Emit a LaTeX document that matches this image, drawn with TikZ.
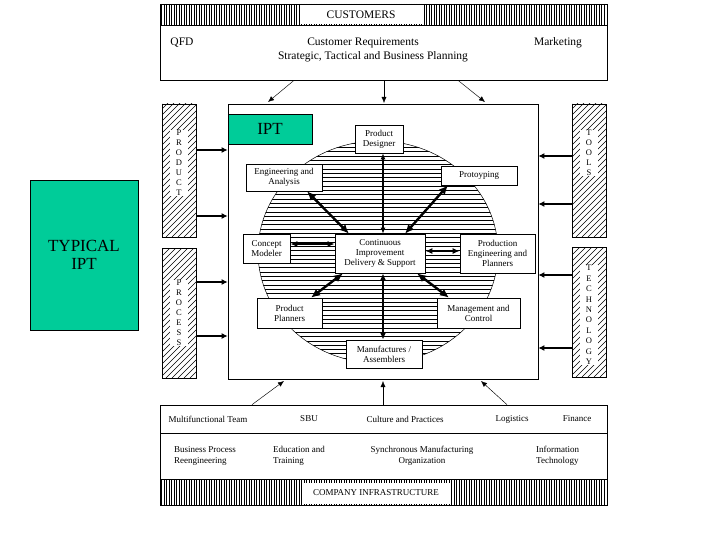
\documentclass[tikz,border=0pt]{standalone}
\usepackage{fontspec}
\setmainfont{Liberation Serif}
\usetikzlibrary{arrows.meta,patterns,calc}
\definecolor{iptgreen}{RGB}{0,204,153}
\begin{document}
\begin{tikzpicture}[x=1pt,y=-1pt,
  boxnode/.style={draw,line width=0.6pt,fill=white,inner sep=0pt,align=center,font=\fontsize{9}{10}\selectfont},
  frame/.style={draw,line width=0.7pt,inner sep=0pt},
  hatchcol/.style={draw,line width=0.6pt,inner sep=0pt,minimum width=34pt},
  colletters/.style={font=\fontsize{8.5}{10}\selectfont,align=center,fill=white,inner sep=0pt,minimum width=18pt},
  bigarrow/.style={{Latex[length=9pt,width=8pt]}-{Latex[length=9pt,width=8pt]},line width=2.4pt},
  midarrow/.style={{Latex[length=7pt,width=6pt]}-{Latex[length=7pt,width=6pt]},line width=1.6pt},
  thinarrow/.style={{Latex[length=6pt,width=5pt]}-{Latex[length=6pt,width=5pt]},line width=1.1pt},
  colarrow/.style={-{Latex[length=6pt,width=6pt]},line width=1.6pt},
  linkarrow/.style={-{Latex[length=6pt,width=5pt]},line width=0.45pt},
  toptext/.style={font=\fontsize{11.5}{13.5}\selectfont,align=center,inner sep=0pt},
  bottext/.style={font=\fontsize{9}{11}\selectfont,inner sep=0pt},
  hatchline/.style={line width=0.45pt},
]
\useasboundingbox (0,0) rectangle (720,540);

% ---------- top box ----------
\node[frame,minimum width=447pt,minimum height=76pt] (top) at (383.5,42) {};
\foreach \x in {161.5,164,...,606} \draw[line width=0.55pt] (\x,4) -- (\x,25);
\draw[line width=0.6pt] (160,25) -- (607,25);
\node[fill=white,minimum width=122pt,minimum height=19pt,inner sep=0pt] (custbox) at (361,15) {};
\node[toptext] (cust) at (custbox) {CUSTOMERS};
\draw[line width=0.7pt] (160,4) rectangle (607,80);
\node[toptext] (qfd) at (182,43) {QFD};
\node[toptext] (custreq) at (363,43) {Customer Requirements};
\node[toptext] (mkt) at (558,43) {Marketing};
\node[toptext] (plan) at (373,57) {Strategic, Tactical and Business Planning};

% ---------- main box ----------
\node[frame,minimum width=310pt,minimum height=275pt] (main) at (383,241.5) {};

% hatched ellipse
\begin{scope}
  \clip (378,252) ellipse [x radius=120, y radius=111];
  \foreach \y in {143,147.3,...,366} \draw[line width=0.5pt] (250,\y) -- (510,\y);
\end{scope}
\draw[line width=0.5pt] (378,252) ellipse [x radius=120, y radius=111];

% IPT label
\node[draw,line width=0.6pt,fill=iptgreen,minimum width=84pt,minimum height=30pt,inner sep=0pt,font=\fontsize{17}{19}\selectfont] (ipt) at (270,129) {IPT};

% inner nodes
\node[boxnode,minimum width=48pt,minimum height=28pt] (pd) at (379,139) {Product\\Designer};
\node[boxnode,minimum width=76pt,minimum height=27pt] (ea) at (284,177.5) {Engineering and\\Analysis};
\node[boxnode,minimum width=76pt,minimum height=19pt] (proto) at (479,175.5) {Protoyping};
\node[boxnode,minimum width=47pt,minimum height=29pt] (cm) at (266.5,248.5) {Concept\\Modeler};
\node[boxnode,minimum width=90pt,minimum height=39pt] (ci) at (380,253.5) {Continuous\\Improvement\\Delivery \& Support};
\node[boxnode,minimum width=75pt,minimum height=39pt] (pep) at (497.5,253.5) {Production\\Engineering and\\Planners};
\node[boxnode,minimum width=65pt,minimum height=30pt] (pp) at (289.5,313) {Product\\Planners};
\node[boxnode,minimum width=83pt,minimum height=30pt] (mc) at (478.5,313) {Management and\\Control};
\node[boxnode,minimum width=76pt,minimum height=28pt] (ma) at (384,354) {Manufactures /\\Assemblers};

% inner arrows
\draw[bigarrow] (ea.south -| 307,0) -- (ci.north -| 349,0);
\draw[bigarrow] (proto.south -| 448,0) -- (ci.north -| 405,0);
\draw[thinarrow] (pd.south -| 383,0) -- (ci.north -| 383,0);
\draw[midarrow] (cm.east |- 0,244) -- (ci.west |- 0,244);
\draw[midarrow] (ci.east |- 0,251) -- (pep.west |- 0,251);
\draw[bigarrow] (ci.south -| 343,0) -- (pp.north -| 311,0);
\draw[bigarrow] (ci.south -| 417,0) -- (mc.north -| 449,0);
\draw[midarrow] (ci.south -| 383,0) -- (ma.north -| 383,0);

% ---------- side columns (light diagonal hatch) ----------
\foreach \cx/\ya/\yb in {162/104/237, 162/248/378, 572/104/237, 572/247/377} {
  \begin{scope}
    \clip (\cx,\ya) rectangle ++(34,\yb-\ya);
    \foreach \k in {-140,-134,...,34} \draw[hatchline] (\cx+\k,\yb) -- ++(140,-140);
  \end{scope}
}
\node[hatchcol,minimum height=133pt] (prodcol) at (179,170.5) {};
\node[colletters] (prodtxt) at (179,163) {P\\R\\O\\D\\U\\C\\T};
\node[hatchcol,minimum height=130pt] (proccol) at (179,313) {};
\node[colletters] (proctxt) at (proccol) {P\\R\\O\\C\\E\\S\\S};
\node[hatchcol,minimum height=133pt] (toolcol) at (589,170.5) {};
\node[colletters] (tooltxt) at (589,153) {T\\O\\O\\L\\S};
\node[hatchcol,minimum height=130pt] (techcol) at (589,312) {};
\node[colletters,font=\fontsize{8.5}{10.4}\selectfont] (techtxt) at (589,315) {T\\E\\C\\H\\N\\O\\L\\O\\G\\Y};

\draw[colarrow] (prodcol.east |- 0,150) -- (main.west |- 0,150);
\draw[colarrow] (prodcol.east |- 0,216) -- (main.west |- 0,216);
\draw[colarrow] (proccol.east |- 0,282) -- (main.west |- 0,282);
\draw[colarrow] (proccol.east |- 0,336) -- (main.west |- 0,336);
\draw[colarrow] (toolcol.west |- 0,156) -- (main.east |- 0,156);
\draw[colarrow] (toolcol.west |- 0,204) -- (main.east |- 0,204);
\draw[colarrow] (techcol.west |- 0,275) -- (main.east |- 0,275);
\draw[colarrow] (techcol.west |- 0,348) -- (main.east |- 0,348);

% ---------- typical IPT ----------
\node[draw,line width=0.7pt,fill=iptgreen,minimum width=108pt,minimum height=150pt,inner sep=0pt,align=center,font=\fontsize{17}{18.5}\selectfont] (typ) at (84,255) {TYPICAL\\IPT};

% ---------- top connectors ----------
\draw[linkarrow] (top.south -| 294,0) -- (268,102);
\draw[linkarrow] (top.south -| 384,0) -- (384,103);
\draw[linkarrow] (top.south -| 458,0) -- (485,102);

% ---------- bottom box ----------
\node[frame,minimum width=447pt,minimum height=100pt] (bot) at (383.5,455) {};
\draw[line width=0.6pt] (160,433) -- (607,433);
\draw[line width=0.6pt] (160,479) -- (607,479);
\foreach \x in {161.5,164,...,606} \draw[line width=0.55pt] (\x,479) -- (\x,505);
\node[fill=white,minimum width=148pt,minimum height=21pt,inner sep=0pt] (compbox) at (376,493) {};
\node[bottext] (comp) at (compbox) {COMPANY INFRASTRUCTURE};
\draw[line width=0.7pt] (160,405) rectangle (607,505);

\node[bottext] (mft) at (208,419) {Multifunctional Team};
\node[bottext] (sbu) at (309,419) {SBU};
\node[bottext] (cap) at (405,419) {Culture and Practices};
\node[bottext] (log) at (512,419) {Logistics};
\node[bottext] (fin) at (577,419) {Finance};
\node[bottext,align=left,anchor=west] (bpr) at (174,456) {Business Process\\Reengineering};
\node[bottext,align=left,anchor=west] (edu) at (273,456) {Education and\\Training};
\node[bottext,align=center] (smo) at (422,456) {Synchronous Manufacturing\\Organization};
\node[bottext,align=left,anchor=west] (it) at (536,456) {Information\\Technology};

% ---------- bottom connectors ----------
\draw[linkarrow] (bot.north -| 252,0) -- (284,381);
\draw[linkarrow] (bot.north -| 383,0) -- (383,381);
\draw[linkarrow] (bot.north -| 507,0) -- (481,381);
\end{tikzpicture}
\end{document}
